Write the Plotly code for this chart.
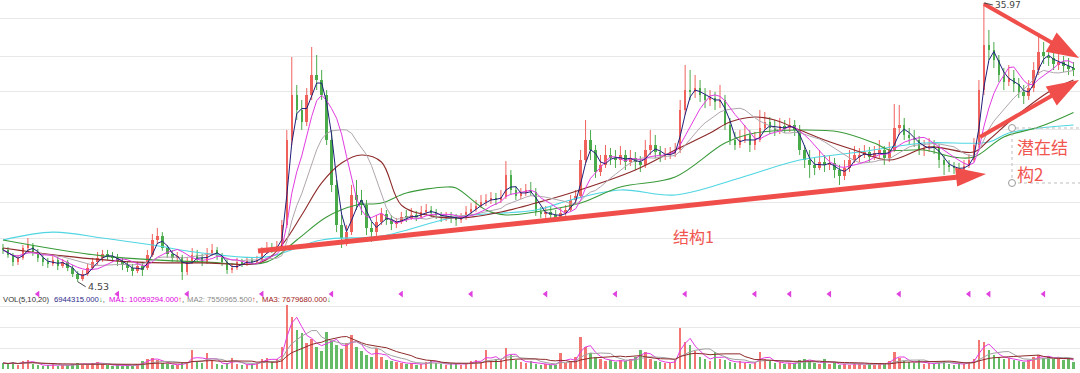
import math
import pandas as pd
import plotly.graph_objects as go

# ---------------- data ----------------
open_ = [5.82,5.74,5.49,5.25,5.41,5.82,5.91,5.65,5.41,5.25,5.17,5.33,5.09,5.25,5.02,4.80,4.62,4.80,5.02,5.25,
         5.41,5.57,5.49,5.41,5.29,5.13,5.02,4.90,5.09,5.02,5.53,6.18,6.36,5.82,5.57,5.41,5.45,4.87,5.25,5.53,
         5.41,5.25,5.61,5.74,5.49,5.25,4.94,5.02,5.25,5.17,5.29,5.25,5.33,5.65,5.82,5.74,5.91,6.91,12.99,18.15,
         16.23,14.85,18.15,21.06,20.29,18.15,12.99,9.30,6.91,6.18,6.55,8.63,8.32,8.01,6.75,6.55,7.06,7.50,7.17,6.96,
         7.06,7.33,7.28,7.44,7.33,7.61,7.72,7.55,7.44,7.28,7.39,7.28,7.17,7.28,7.61,7.78,7.95,8.19,8.32,8.44,
         8.32,8.51,10.01,8.96,8.57,8.76,8.96,8.82,7.61,7.50,7.61,7.44,7.28,7.55,7.72,8.32,8.57,11.19,12.99,12.06,
         10.24,10.79,11.62,11.36,11.19,11.62,11.03,11.36,11.03,10.79,12.06,12.51,11.88,11.53,11.62,11.79,12.06,16.23,18.83,18.56,
         19.11,18.15,17.49,17.75,17.23,17.49,14.52,12.99,12.51,12.99,13.48,12.51,12.99,14.20,14.85,14.20,13.99,14.41,14.20,14.52,
         13.99,12.06,11.19,10.79,10.55,11.03,10.79,10.95,10.39,9.94,10.55,11.19,11.44,11.62,11.88,11.44,11.79,12.06,11.36,12.06,
         14.20,14.52,13.48,13.18,12.99,12.06,12.24,12.42,12.24,11.19,10.79,10.63,10.55,10.39,10.71,11.19,12.51,18.83,26.32,25.36,
         23.54,21.06,19.98,20.59,19.68,18.56,18.02,19.11,21.85,24.98,24.25,23.89,22.85,23.19,22.51,22.18]
high = [6.00,5.86,5.61,5.53,5.95,6.27,6.04,5.78,5.53,5.41,5.49,5.45,5.37,5.33,5.13,4.90,4.94,5.17,5.41,5.65,
        5.74,5.74,5.65,5.57,5.41,5.25,5.17,5.25,5.25,5.74,6.46,6.75,6.55,5.95,5.74,5.65,5.53,5.41,5.82,5.74,
        5.57,5.82,6.00,5.86,5.61,5.37,5.21,5.41,5.37,5.45,5.41,5.49,5.86,6.09,6.04,6.13,7.17,13.99,24.07,19.55,
        17.49,19.11,25.93,24.43,21.85,18.83,13.99,9.65,7.44,6.91,9.30,9.65,8.96,8.32,7.06,7.44,7.84,7.72,7.44,7.28,
        7.61,7.72,7.84,7.67,7.95,8.07,7.95,7.78,7.61,7.61,7.61,7.50,7.55,7.95,8.13,8.32,8.63,8.69,8.82,8.76,
        8.96,11.11,10.39,9.23,9.09,9.37,9.51,9.09,7.90,7.95,7.90,7.72,7.84,8.01,8.63,8.96,12.06,15.07,13.99,12.51,
        11.62,12.51,12.24,12.06,12.42,12.06,12.06,11.88,11.53,12.99,13.99,13.48,12.42,12.24,12.33,12.70,17.49,22.68,21.85,21.06,
        20.29,19.11,18.83,18.56,19.55,18.15,15.30,13.79,13.99,14.52,13.99,13.79,16.23,16.00,15.41,15.07,15.30,15.07,15.30,15.07,
        14.52,12.51,12.06,11.36,12.06,11.62,11.53,11.36,10.79,11.19,12.06,12.42,12.24,12.51,12.33,12.42,12.99,12.42,12.80,16.97,
        16.85,15.30,14.20,13.99,13.38,12.99,13.18,12.99,12.60,11.62,11.19,11.03,10.95,11.19,11.70,13.18,20.29,35.97,29.42,26.92,
        24.43,22.18,22.68,21.85,20.59,19.55,20.29,23.19,28.77,26.92,25.74,25.36,24.62,24.25,23.89,23.19]
low = [5.57,5.41,5.09,5.13,5.33,5.65,5.49,5.25,5.09,5.02,5.09,4.94,5.02,4.90,4.69,4.53,4.56,4.73,4.94,5.13,
       5.25,5.33,5.25,5.09,4.94,4.87,4.73,4.83,4.73,4.94,5.45,6.00,5.70,5.41,5.25,5.25,4.59,4.76,5.17,5.25,
       5.09,5.17,5.49,5.33,5.09,4.80,4.83,4.94,5.05,5.09,5.13,5.17,5.25,5.57,5.61,5.65,5.82,6.75,12.51,15.07,
       13.99,14.41,17.49,18.83,17.49,12.51,8.82,6.55,5.82,5.91,6.41,7.72,7.44,6.41,6.09,6.36,6.91,6.91,6.65,6.75,
       6.96,7.06,7.17,7.11,7.22,7.44,7.33,7.22,7.06,7.11,7.01,6.86,7.01,7.17,7.44,7.61,7.84,7.95,8.07,8.01,
       8.13,8.38,8.63,8.32,8.38,8.57,8.57,7.39,7.28,7.28,7.17,7.11,7.17,7.39,7.61,8.07,8.44,10.79,11.19,9.80,
       9.94,10.55,10.79,10.55,10.79,10.39,10.71,10.39,10.24,10.55,11.62,11.36,11.03,11.19,11.28,11.44,11.79,15.64,17.49,17.75,
       17.23,16.47,16.72,16.23,16.47,13.99,12.51,12.06,12.24,12.70,11.88,12.06,12.80,13.99,13.58,13.38,13.58,13.68,13.79,13.38,
       11.62,10.55,9.80,10.01,10.39,10.24,10.39,9.80,9.30,9.65,10.24,10.95,11.03,11.36,11.03,11.19,11.36,10.79,11.03,11.88,
       13.48,12.99,12.51,12.33,11.62,11.53,11.88,11.70,10.55,10.01,10.24,10.09,9.94,10.24,10.55,11.03,12.24,18.15,23.54,22.18,
       19.98,18.83,19.40,18.56,17.75,16.97,17.49,18.56,21.06,22.85,22.51,21.85,21.85,21.53,21.06,20.90]
close = [5.74,5.53,5.25,5.41,5.82,5.95,5.65,5.41,5.25,5.17,5.33,5.09,5.25,5.02,4.80,4.62,4.80,5.02,5.25,5.41,
         5.57,5.49,5.41,5.29,5.13,5.02,4.90,5.09,4.94,5.53,6.18,6.36,5.82,5.57,5.41,5.45,4.87,5.25,5.53,5.41,
         5.25,5.61,5.74,5.49,5.25,4.94,5.02,5.25,5.17,5.29,5.25,5.33,5.65,5.82,5.74,5.91,6.91,12.99,18.15,16.23,
         14.85,18.15,21.06,20.29,18.15,12.99,9.30,6.91,6.27,6.55,8.63,8.32,8.01,6.75,6.55,7.06,7.50,7.17,6.96,7.06,
         7.33,7.28,7.44,7.33,7.61,7.72,7.55,7.44,7.28,7.39,7.28,7.17,7.28,7.61,7.78,7.95,8.19,8.32,8.44,8.32,
         8.51,10.01,8.96,8.57,8.76,8.96,8.82,7.61,7.50,7.61,7.44,7.28,7.55,7.72,8.32,8.57,11.19,12.99,12.06,10.24,
         10.79,11.62,11.36,11.19,11.62,11.03,11.36,11.03,10.79,12.06,12.51,11.88,11.53,11.62,11.79,12.06,16.23,18.83,18.56,19.11,
         18.15,17.49,17.75,17.23,17.49,14.52,12.99,12.51,12.99,13.48,12.51,12.99,14.20,14.85,14.20,13.99,14.41,14.20,14.52,13.99,
         12.06,11.19,10.79,10.55,11.03,10.79,10.95,10.39,9.94,10.55,11.19,11.62,11.62,11.88,11.44,11.79,12.06,11.36,12.06,14.20,
         14.52,13.48,13.18,12.99,12.06,12.24,12.42,12.24,11.19,10.79,10.63,10.55,10.39,10.71,11.19,12.51,18.83,26.32,25.36,23.54,
         21.06,19.98,20.59,19.68,18.56,18.02,19.11,21.85,24.98,24.25,23.89,22.85,23.19,22.51,22.18,21.85]
volume_m = [6,5,7,4,8,9,5,4,3,4,5, 3,4,4,5,6,4,5,6,7,5, 4,3,4,3,4,3,5,8, 10,11,9,6,5,4,4,
            6,7,19,8,6,16,9, 5,4,6,11,5,4,4,5,6, 10,11,8,10,
            22,64,52,39,36,26,30,22,18,37,28,24,20,26,34,22,18,14,12,21,
            12,9,8,7,6, 5,6,4,5,7,9,6,5,4,6, 5,4,6,8,9,6,19,8,10,9, 21,
            14,9,7,6,8,5,4,5,4, 4,16,6,8,12, 32,22, 16,12,10,8,9, 7,9,8,10,12,19,
            17,10,8,7,6, 6,9, 41,27, 24,18,12,10,8, 17, 10,9,7,6,8,6,5,7, 17,
            10,8,6,7,5,6,5,9, 10,8,6,5,10, 5,6,4,5,4,6,5,4,5,4,6,5, 8,17,
            11,8,7,6,9,5, 6,5,7,8,5,4,6,5,7, 10,29,27, 19,14,12,10,11,9,
            8,7,9,12,14,11, 13,10,12,9,11,7]

# long moving averages (candle index, price)
ma60_idx = [0,12,26,40,52,56,60,64,68,72,76,80,86,92,100,107,114,127,135,142,146,151,155,160,165,171,178,186,195,198,203,210,215]
ma60_val = [5.82,5.49,5.25,5.21,5.25,5.95,7.44,9.44,10.95,11.62,11.03,8.01,7.39,7.28,7.61,8.13,8.76,10.39,12.06,13.68,14.85,15.41,15.07,13.99,12.99,12.06,11.19,12.33,11.88,12.99,15.30,18.56,20.29]
ma120_idx = [0,20,40,53,59,65,71,76,81,89,91,97,101,107,116,124,135,145,151,160,168,175,178,185,191,195,201,208,215]
ma120_val = [6.18,5.49,5.25,5.25,6.18,7.33,8.01,8.13,8.76,9.16,9.09,7.72,7.44,7.61,8.13,9.16,9.87,12.70,13.68,13.99,13.79,12.70,12.06,12.06,11.44,11.44,13.28,14.30,15.95]
ma250_idx = [0,10,20,30,40,53,64,76,91,107,114,124,135,148,160,172,185,198,202,215]
ma250_val = [6.18,6.55,6.27,5.95,5.61,5.45,6.18,6.36,7.33,7.72,8.32,8.96,8.63,9.80,11.19,11.88,12.70,12.80,13.68,14.52]

signal_idx = [7,23,37,52,66,80,94,109,123,137,151,158,166,180,194,198,209]

vol_text = ["VOL(5,10,20)", "6944315.000", "10059294.000", "7550965.500", "7679680.000"]

# ---------------- figure ----------------
W, H = 1080, 373
n = len(close)
idx = list(range(n))
up = [c >= o for o, c in zip(open_, close)]

RED_C, GRN_C = "#f0625c", "#4aab4a"
RED_V, GRN_V = "#f27672", "#66bb66"
ARROW = "#f04e4a"

fig = go.Figure()

# candle wicks
for flag, col in [(True, RED_C), (False, GRN_C)]:
    wx, wy = [], []
    for i in idx:
        if up[i] == flag:
            wx += [i, i, None]
            wy += [low[i], high[i], None]
    fig.add_trace(go.Scatter(x=wx, y=wy, mode="lines", line=dict(color=col, width=1),
                             xaxis="x", yaxis="y", hoverinfo="skip"))
# candle bodies
body_base = [min(o, c) for o, c in zip(open_, close)]
body_len = [max(abs(c - o), 0.004 * c) for o, c in zip(open_, close)]
fig.add_trace(go.Bar(x=idx, y=body_len, base=body_base, width=0.5,
                     marker=dict(color=[RED_C if u else GRN_C for u in up], line=dict(width=0)),
                     xaxis="x", yaxis="y", hoverinfo="skip"))

for xs, ys, col in [(ma250_idx, ma250_val, "#4fd6e2"),
                    (ma120_idx, ma120_val, "#3a9a3a"),
                    (ma60_idx, ma60_val, "#8e2a2a")]:
    fig.add_trace(go.Scatter(x=xs, y=ys, mode="lines", line=dict(color=col, width=1.1, shape="spline", smoothing=1.0),
                             xaxis="x", yaxis="y", hoverinfo="skip"))

cs = pd.Series(close)
for w, col in [(13, "#b0a6ae"), (7, "#e23be2"), (3, "#1f1f7a")]:
    fig.add_trace(go.Scatter(x=idx, y=cs.rolling(w, min_periods=1).mean(), mode="lines",
                             line=dict(color=col, width=1), xaxis="x", yaxis="y", hoverinfo="skip"))

fig.add_trace(go.Bar(x=idx, y=volume_m, width=0.5, marker=dict(color=[RED_V if u else GRN_V for u in up], line=dict(width=0)),
                     xaxis="x", yaxis="y2", hoverinfo="skip"))
vs = pd.Series(volume_m, dtype=float)
for w, col in [(3, "#e23be2"), (7, "#a0a0a0"), (13, "#8e2a2a")]:
    fig.add_trace(go.Scatter(x=idx, y=vs.rolling(w, min_periods=1).mean(), mode="lines",
                             line=dict(color=col, width=1), xaxis="x", yaxis="y2", hoverinfo="skip"))

fig.add_trace(go.Scatter(x=signal_idx, y=[75] * len(signal_idx), mode="markers",
                         marker=dict(symbol="triangle-left", size=6, color="#e040e0"),
                         xaxis="x", yaxis="y2", hoverinfo="skip"))

# ---------------- overlays ----------------
def P(x, y):
    return x / W, 1 - y / H

def arrow_path(x0, y0, x1, y1, w, L, hw):
    dx, dy = x1 - x0, y1 - y0
    d = math.hypot(dx, dy)
    ux, uy = dx / d, dy / d
    nx, ny = -uy, ux
    bx, by = x1 - L * ux, y1 - L * uy
    pts = [(x0 + nx * w / 2, y0 + ny * w / 2), (bx + nx * w / 2, by + ny * w / 2),
           (bx + nx * hw / 2, by + ny * hw / 2), (x1, y1),
           (bx - nx * hw / 2, by - ny * hw / 2), (bx - nx * w / 2, by - ny * w / 2),
           (x0 - nx * w / 2, y0 - ny * w / 2)]
    return "M " + " L ".join("%.5f,%.5f" % P(px, py) for px, py in pts) + " Z"

shapes = []
for a in [(258, 251, 986, 174, 5, 30, 19), (984, 4, 1079, 58, 4, 32, 22), (980, 137, 1079, 80, 4, 32, 22)]:
    shapes.append(dict(type="path", path=arrow_path(*a), xref="paper", yref="paper",
                       fillcolor=ARROW, line=dict(width=0), layer="above"))
bx0, by0 = P(1012, 128)
bx1, by1 = P(1090, 183)
shapes.append(dict(type="rect", xref="paper", yref="paper", x0=bx0, x1=bx1, y0=by1, y1=by0,
                   line=dict(color="#bdbdbd", width=1, dash="dot"), fillcolor="rgba(0,0,0,0)"))
for cy in (128, 183):
    a0 = P(1008.5, cy - 3.5)
    a1 = P(1015.5, cy + 3.5)
    shapes.append(dict(type="circle", xref="paper", yref="paper", x0=a0[0], x1=a1[0], y0=a1[1], y1=a0[1],
                       line=dict(color="#9a9a9a", width=1), fillcolor="white"))

ann = []
CJK = "Noto Sans CJK SC"
tx, ty = P(693, 236)
ann.append(dict(x=tx, y=ty, xref="paper", yref="paper", text="结构1", showarrow=False,
                font=dict(family=CJK, size=16, color="#f0554f")))
for s, yy in [("潜在结", 146), ("构2", 173)]:
    tx, ty = P(1015, yy)
    ann.append(dict(x=tx, y=ty, xref="paper", yref="paper", text=s, showarrow=False, xanchor="left",
                    font=dict(family=CJK, size=17, color="#f0554f")))

imax = max(range(n), key=lambda i: high[i])
imin = min(range(n), key=lambda i: low[i])
ann.append(dict(x=imax, y=math.log10(high[imax]), xref="x", yref="y", text="%.2f" % high[imax],
                showarrow=True, arrowhead=0, arrowwidth=1, arrowcolor="#444", ax=9, ay=2,
                xanchor="left", font=dict(family="DejaVu Sans", size=9, color="#444")))
ann.append(dict(x=imin, y=math.log10(low[imin]), xref="x", yref="y", text="%.2f" % low[imin],
                showarrow=True, arrowhead=0, arrowwidth=1, arrowcolor="#444", ax=8, ay=5,
                xanchor="left", font=dict(family="DejaVu Sans", size=9.5, color="#444")))

FONT = "Liberation Sans"
G, R = "#1a9a1a", "#e02020"
vol_parts = [
    (1, "<span style='color:#333'>%s</span>" % vol_text[0]),
    (52, "<span style='color:#2a2a8a'>%s</span><span style='color:%s'>↓</span><span style='color:#333'>,</span>" % (vol_text[1], G)),
    (107, "<span style='color:#e000e0'>MA1: %s</span><span style='color:%s'>↑</span><span style='color:#333'>,</span>" % (vol_text[2], R)),
    (185, "<span style='color:#8a8a8a'>MA2: %s</span><span style='color:%s'>↑</span><span style='color:#333'>,</span>" % (vol_text[3], R)),
    (260, "<span style='color:#a02020'>MA3: %s</span><span style='color:%s'>↓</span>" % (vol_text[4], G)),
]
for xx, s in vol_parts:
    tx, ty = P(xx, 299)
    ann.append(dict(x=tx, y=ty, xref="paper", yref="paper", text=s, showarrow=False, xanchor="left",
                    yanchor="middle", font=dict(family=FONT, size=7.7)))

price_grid = [31.93, 24.25, 18.56, 14.09, 10.79, 8.19, 6.27, 4.76]

fig.update_layout(
    width=W, height=H, margin=dict(l=0, r=0, t=0, b=0),
    paper_bgcolor="white", plot_bgcolor="white", showlegend=False,
    xaxis=dict(range=[-0.6, 216.3], visible=False, domain=[0, 1]),
    yaxis=dict(type="log", domain=[1 - 290 / H, 1], range=[math.log10(4.26), math.log10(36.77)],
               tickvals=price_grid, showticklabels=False, ticks="", gridcolor="#e8e8e8", gridwidth=1,
               zeroline=False, showline=False),
    yaxis2=dict(domain=[4 / H, 82 / H], range=[0, 78], tickvals=[21, 42, 63], showticklabels=False, ticks="",
                gridcolor="#e8e8e8", zeroline=False, showline=False),
    barmode="overlay", bargap=0, shapes=shapes, annotations=ann,
)
fig.write_html("out.html")
